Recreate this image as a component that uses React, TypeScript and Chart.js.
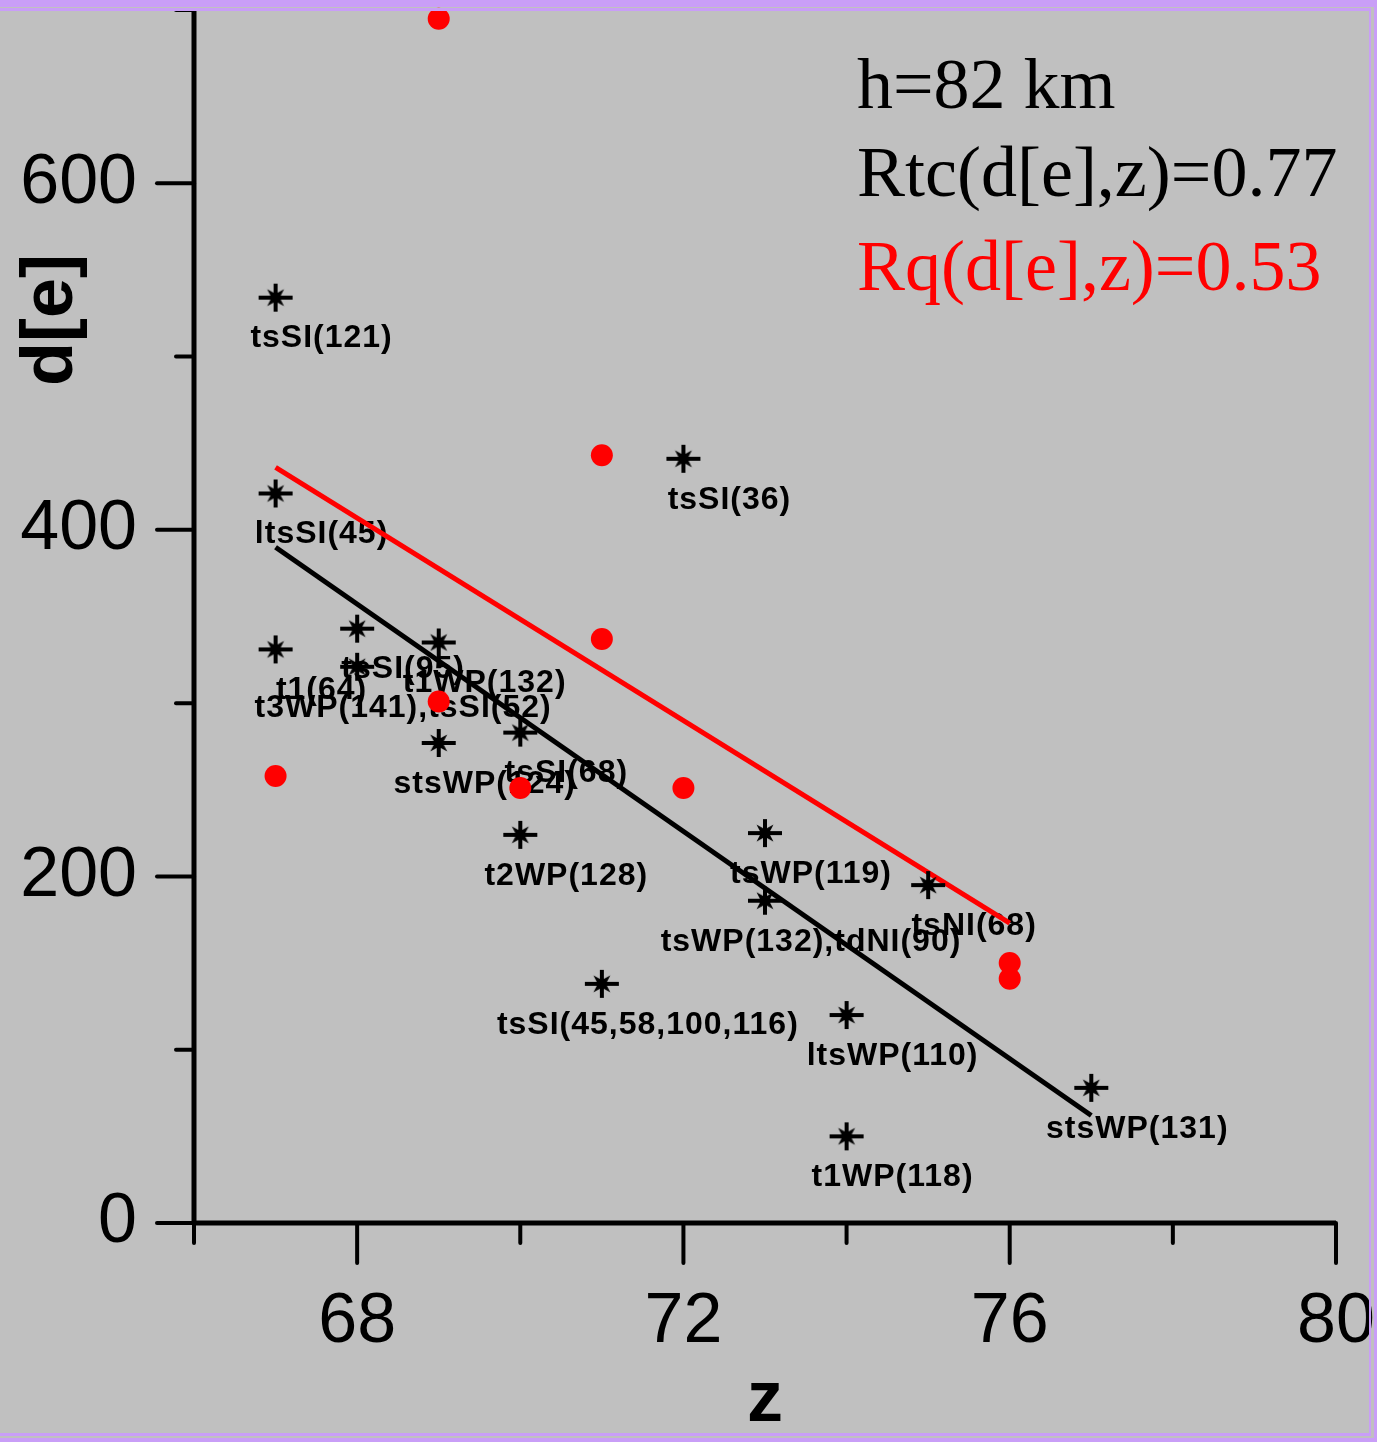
import React, { useEffect, useRef } from 'react';
import { Chart, registerables } from 'chart.js';

Chart.register(...registerables);

// ---------- data ----------
const starZ = [67, 67, 67, 68, 68, 69, 69, 70, 70, 71, 72, 73, 73, 74, 74, 75, 77];
const starD = [534, 421, 331, 343, 321, 335, 277, 283, 224, 138, 441, 225, 186, 120, 50, 195, 78];
const starLabels = [
  'tsSI(121)', 'ltsSI(45)', 't1(64)', 'tsSI(95)', 't3WP(141),tsSI(52)', 't1WP(132)',
  'stsWP(124)', 'tsSI(68)', 't2WP(128)', 'tsSI(45,58,100,116)', 'tsSI(36)', 'tsWP(119)',
  'tsWP(132),tdNI(90)', 'ltsWP(110)', 't1WP(118)', 'tsNI(68)', 'stsWP(131)',
];
const dotZ = [67, 69, 69, 70, 71, 71, 72, 76, 76];
const dotD = [258, 301, 695, 251, 443, 337, 251, 150, 141];
const tcFitZ = [67, 77];
const tcFitD = [390, 62];
const qFitZ = [67, 76];
const qFitD = [436, 173];
const xTickLabels = [68, 72, 76, 80];
const yTickLabels = [0, 200, 400, 600];
const annotationTexts = ['h=82 km', 'Rtc(d[e],z)=0.77', 'Rq(d[e],z)=0.53'];
const annotationColors = ['#000000', '#000000', '#ff0000'];

const W = 1377;
const H = 1442;
const SANS = '"Liberation Sans", Arial, sans-serif';
const SERIF = '"Liberation Serif", "Times New Roman", serif';

function makeStar(): HTMLCanvasElement {
  const c = document.createElement('canvas');
  c.width = 40;
  c.height = 36;
  const g = c.getContext('2d')!;
  const cx = 20;
  const cy = 18;
  g.strokeStyle = '#000';
  g.lineWidth = 4;
  g.beginPath();
  g.moveTo(cx, cy - 14);
  g.lineTo(cx, cy + 14);
  g.moveTo(cx - 17, cy);
  g.lineTo(cx + 17, cy);
  g.stroke();
  g.fillStyle = '#000';
  g.beginPath();
  for (let i = 0; i < 16; i++) {
    const a = (i * Math.PI) / 8;
    const r = i % 2 === 1 ? 5.5 : i % 4 === 0 ? 9 : 12;
    const px = cx + r * Math.cos(a);
    const py = cy + r * Math.sin(a);
    if (i === 0) g.moveTo(px, py);
    else g.lineTo(px, py);
  }
  g.closePath();
  g.fill();
  return c;
}

const decorPlugin = {
  id: 'decor',
  beforeDraw(chart: any) {
    const ctx = chart.ctx;
    ctx.save();
    ctx.fillStyle = '#c0c0c0';
    ctx.fillRect(0, 0, W, H);
    ctx.restore();
  },
  beforeDatasetsDraw(chart: any) {
    const ctx = chart.ctx;
    const meta = chart.getDatasetMeta(1);
    ctx.save();
    ctx.font = `bold 32px ${SANS}`;
    (ctx as any).letterSpacing = '1px';
    ctx.fillStyle = '#000';
    ctx.textAlign = 'center';
    ctx.textBaseline = 'middle';
    meta.data.forEach((pt: any, i: number) => {
      ctx.fillText(starLabels[i], pt.x + 46, pt.y + 41);
    });
    ctx.restore();
  },
  afterDraw(chart: any) {
    const ctx = chart.ctx;
    const { left, right, top, bottom } = chart.chartArea;
    const xs = chart.scales.x;
    const ys = chart.scales.y;
    ctx.save();
    ctx.strokeStyle = '#000';
    ctx.lineCap = 'round';
    // ticks
    ctx.lineWidth = 4;
    xs.ticks.forEach((t: any) => {
      const px = xs.getPixelForValue(t.value);
      const len = xTickLabels.includes(t.value) ? 40 : 20;
      ctx.beginPath();
      ctx.moveTo(px, bottom);
      ctx.lineTo(px, bottom + len);
      ctx.stroke();
    });
    ys.ticks.forEach((t: any) => {
      const py = ys.getPixelForValue(t.value);
      const len = yTickLabels.includes(t.value) ? 37 : 18;
      ctx.beginPath();
      ctx.moveTo(left, py);
      ctx.lineTo(left - len, py);
      ctx.stroke();
    });
    // axis lines
    ctx.lineWidth = 5;
    ctx.lineCap = 'butt';
    ctx.beginPath();
    ctx.moveTo(left, top);
    ctx.lineTo(left, bottom);
    ctx.moveTo(left, bottom);
    ctx.lineTo(right, bottom);
    ctx.stroke();

    // axis titles
    ctx.fillStyle = '#000';
    ctx.font = `bold 72px ${SANS}`;
    ctx.textAlign = 'center';
    ctx.textBaseline = 'alphabetic';
    ctx.fillText('z', (left + right) / 2, 1421);
    ctx.save();
    ctx.translate(72, 320);
    ctx.rotate(-Math.PI / 2);
    ctx.fillText('d[e]', 0, 0);
    ctx.restore();

    // annotation texts
    ctx.font = `72px ${SERIF}`;
    ctx.textAlign = 'left';
    const baselines = [108, 196, 290];
    annotationTexts.forEach((t, i) => {
      ctx.fillStyle = annotationColors[i];
      ctx.fillText(t, 857, baselines[i]);
    });

    // frame
    ctx.fillStyle = '#c99ef7';
    ctx.fillRect(0, 0, W, 7);
    ctx.fillRect(0, 8, W - 6, 3);
    ctx.fillRect(W - 3, 0, 3, H);
    ctx.fillRect(W - 8, 8, 2, H - 14);
    ctx.fillRect(0, H - 4, W, 4);
    ctx.fillRect(0, H - 9, W - 6, 3);
    ctx.restore();
  },
};

export default function App() {
  const ref = useRef<HTMLCanvasElement | null>(null);

  useEffect(() => {
    if (!ref.current) return;
    const star = makeStar();
    const toPts = (xs: number[], ys: number[]) => xs.map((x, i) => ({ x, y: ys[i] }));
    const chart = new Chart(ref.current, {
      type: 'scatter',
      data: {
        datasets: [
          {
            label: 'q',
            data: toPts(dotZ, dotD),
            pointStyle: 'circle',
            pointRadius: 11,
            backgroundColor: '#ff0000',
            borderColor: '#ff0000',
            borderWidth: 0,
            clip: false,
            order: 0,
          },
          {
            label: 'tc',
            data: toPts(starZ, starD),
            pointStyle: star as any,
            pointRadius: 18,
            clip: false,
            order: 1,
          },
          {
            label: 'tc fit',
            data: toPts(tcFitZ, tcFitD),
            showLine: true,
            borderColor: '#000000',
            borderWidth: 5,
            pointRadius: 0,
            clip: false,
            order: 2,
          },
          {
            label: 'q fit',
            data: toPts(qFitZ, qFitD),
            showLine: true,
            borderColor: '#ff0000',
            borderWidth: 5,
            pointRadius: 0,
            clip: false,
            order: 3,
          },
        ],
      },
      options: {
        responsive: false,
        animation: false,
        events: [],
        layout: { autoPadding: false, padding: { top: 10, right: 41, left: 0, bottom: 0 } },
        plugins: { legend: { display: false }, tooltip: { enabled: false } },
        scales: {
          x: {
            type: 'linear',
            min: 66,
            max: 80,
            grid: { display: false, drawTicks: true, tickLength: 40 },
            border: { display: false },
            ticks: {
              stepSize: 2,
              autoSkip: false,
              maxRotation: 0,
              padding: 18,
              color: '#000',
              font: { family: SANS, size: 70 },
              callback: (v: any) => (xTickLabels.includes(Number(v)) ? String(v) : ''),
            },
            afterFit: (s: any) => {
              s.height = 219;
              s.paddingLeft = 0;
              s.paddingRight = 0;
            },
          },
          y: {
            type: 'linear',
            min: 0,
            max: 700,
            grid: { display: false, drawTicks: true, tickLength: 40 },
            border: { display: false },
            ticks: {
              stepSize: 100,
              autoSkip: false,
              padding: 17,
              color: '#000',
              font: { family: SANS, size: 70 },
              callback: (v: any) => (yTickLabels.includes(Number(v)) ? String(v) : ''),
            },
            afterFit: (s: any) => {
              s.width = 194;
              s.paddingTop = 0;
              s.paddingBottom = 0;
            },
          },
        },
      },
      plugins: [decorPlugin],
    });
    return () => chart.destroy();
  }, []);

  return (
    <div style={{ position: 'absolute', left: 0, top: 0, width: W, height: H }}>
      <canvas ref={ref} width={W} height={H} style={{ display: 'block' }} />
    </div>
  );
}
